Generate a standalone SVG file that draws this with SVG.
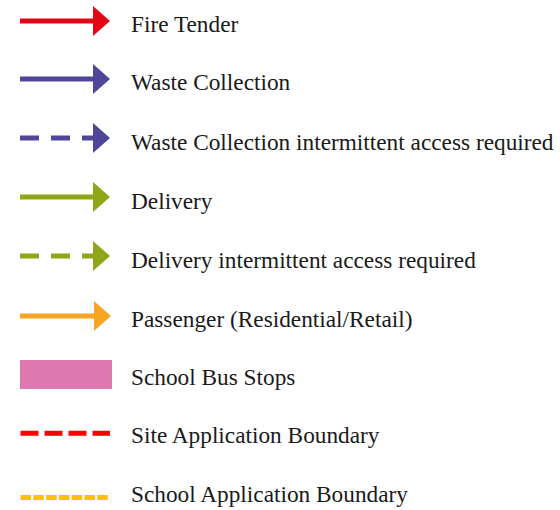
<svg xmlns="http://www.w3.org/2000/svg" width="560" height="510" viewBox="0 0 560 510">
<style>
text{font-family:"Liberation Serif","Times New Roman",serif;font-size:23.3px;fill:#1a1a1a}
.ln{fill:none;stroke-width:5}
</style>
<rect width="560" height="510" fill="#fff"/>
<g id="connectors">
<g id="fire"><path class="ln" d="M20 21H95" stroke="#e30613"/><polygon points="93,6 110,21 93,36" fill="#e30613"/></g>
<g id="waste"><path class="ln" d="M20 79H95" stroke="#4f4599"/><polygon points="93,64 110,79 93,94" fill="#4f4599"/></g>
<g id="waste-int"><path class="ln" d="M20 138H95" stroke="#4f4599" stroke-dasharray="19 12"/><polygon points="93,123 110,138 93,153" fill="#4f4599"/></g>
<g id="delivery"><path class="ln" d="M20 197H95" stroke="#8ea718"/><polygon points="93,182 110,197 93,212" fill="#8ea718"/></g>
<g id="delivery-int"><path class="ln" d="M20 256H95" stroke="#8ea718" stroke-dasharray="19 12"/><polygon points="93,241 110,256 93,271" fill="#8ea718"/></g>
<g id="passenger"><path class="ln" d="M20 316H95" stroke="#f6a623"/><polygon points="94,301 111,316 94,331" fill="#f6a623"/></g>
</g>
<g id="busstop"><rect x="20" y="360" width="92" height="29" fill="#de7ab0"/></g>
<g id="site-boundary"><path class="ln" d="M20.5 433.3H110" stroke="#ff0000" stroke-dasharray="18 6"/></g>
<g id="school-boundary"><path class="ln" d="M20.5 497.5H110" stroke="#ffc000" stroke-dasharray="10.5 2.3"/></g>
<g id="labels">
<text x="131" y="32">Fire Tender</text>
<text x="131" y="90">Waste Collection</text>
<text x="131" y="150">Waste Collection intermittent access required</text>
<text x="131" y="209">Delivery</text>
<text x="131" y="268">Delivery intermittent access required</text>
<text x="131" y="327">Passenger (Residential/Retail)</text>
<text x="131" y="385">School Bus Stops</text>
<text x="131" y="443">Site Application Boundary</text>
<text x="131" y="502">School Application Boundary</text>
</g>
</svg>
